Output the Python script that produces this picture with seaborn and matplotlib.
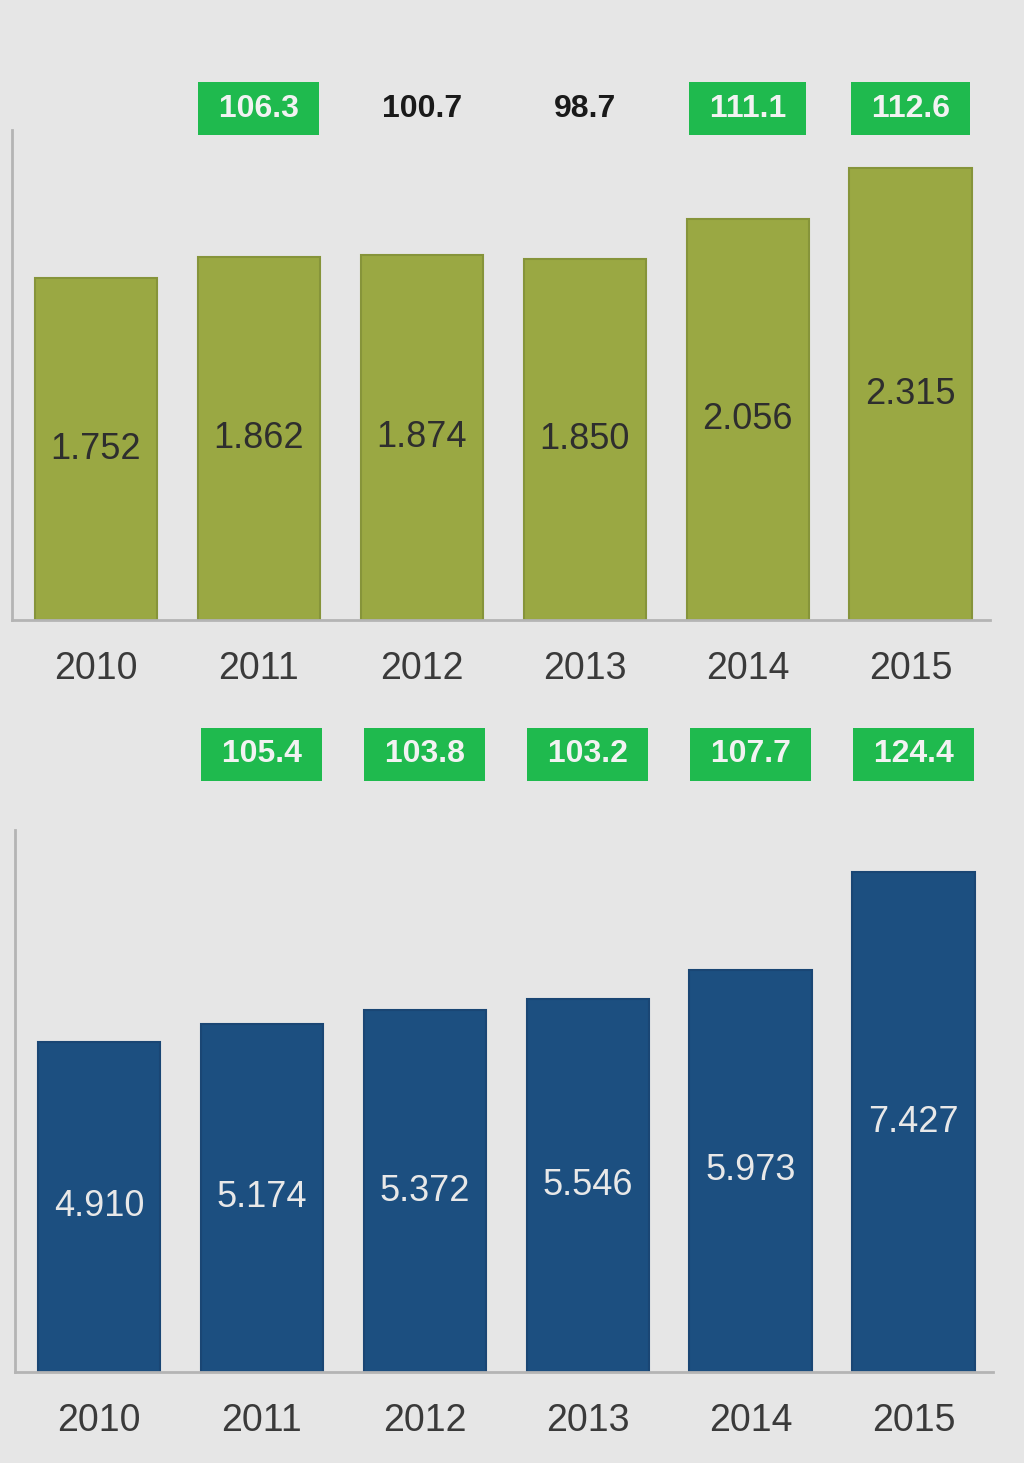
import matplotlib
matplotlib.use("Agg")
import matplotlib.pyplot as plt
import seaborn as sns

years = ["2010", "2011", "2012", "2013", "2014", "2015"]

top_values = [1752, 1862, 1874, 1850, 2056, 2315]
top_index = [None, 106.3, 100.7, 98.7, 111.1, 112.6]
top_boxed = [False, True, False, False, True, True]

bottom_values = [4910, 5174, 5372, 5546, 5973, 7427]
bottom_index = [None, 105.4, 103.8, 103.2, 107.7, 124.4]
bottom_boxed = [False, True, True, True, True, True]

BG = "#e6e6e6"
OLIVE = "#9aa843"
NAVY = "#1c4f80"
GREEN = "#1fba4e"
SPINE = "#b4b4b4"

sns.set_theme(style="white")
plt.rcParams["font.family"] = ["Liberation Sans", "DejaVu Sans"]


def fmt(v):
    return f"{v:,}".replace(",", ".")


def panel(ax, values, index, boxed, color, edge, label_color, ymax, idx_y):
    sns.barplot(x=years, y=values, color=color, saturation=1, width=0.75,
                edgecolor=edge, linewidth=1.5, ax=ax)
    ax.set_facecolor(BG)
    ax.set_ylim(0, ymax)
    ax.set_xlim(-0.515, 5.487)
    ax.set_yticks([])
    ax.set_xlabel("")
    ax.set_ylabel("")
    for side in ["top", "right"]:
        ax.spines[side].set_visible(False)
    for side in ["left", "bottom"]:
        ax.spines[side].set_color(SPINE)
        ax.spines[side].set_linewidth(2)
    ax.tick_params(axis="x", length=0, pad=22, labelsize=27, labelcolor="#3a3a3a")

    for i, v in enumerate(values):
        ax.text(i, v / 2, fmt(v), ha="center", va="center", fontsize=26,
                color=label_color)

    trans = ax.get_xaxis_transform()
    for i, (g, b) in enumerate(zip(index, boxed)):
        if g is None:
            continue
        if b:
            ax.text(i, idx_y, f" {g:.1f} ", ha="center", va="center", fontsize=23,
                    fontweight="bold", color="#f2f2f2", transform=trans, clip_on=False,
                    bbox=dict(boxstyle="square,pad=0.36", facecolor=GREEN,
                              edgecolor="none"))
        else:
            ax.text(i, idx_y, f"{g:.1f}", ha="center", va="center", fontsize=23,
                    fontweight="bold", color="#1a1a1a", transform=trans, clip_on=False)


fig = plt.figure(figsize=(10.24, 14.63), dpi=100)
fig.patch.set_facecolor(BG)

ax1 = fig.add_axes([0.0117, 0.5762, 0.955, 0.3349])
ax2 = fig.add_axes([0.0146, 0.0622, 0.955, 0.3705])

panel(ax1, top_values, top_index, top_boxed, OLIVE, "#86943a", "#2e2e2e", 2512, 1.044)
panel(ax2, bottom_values, bottom_index, bottom_boxed, NAVY, "#1a4674", "#e8e8e8", 8053, 1.140)

fig.savefig("out.png", dpi=100, facecolor=BG)
